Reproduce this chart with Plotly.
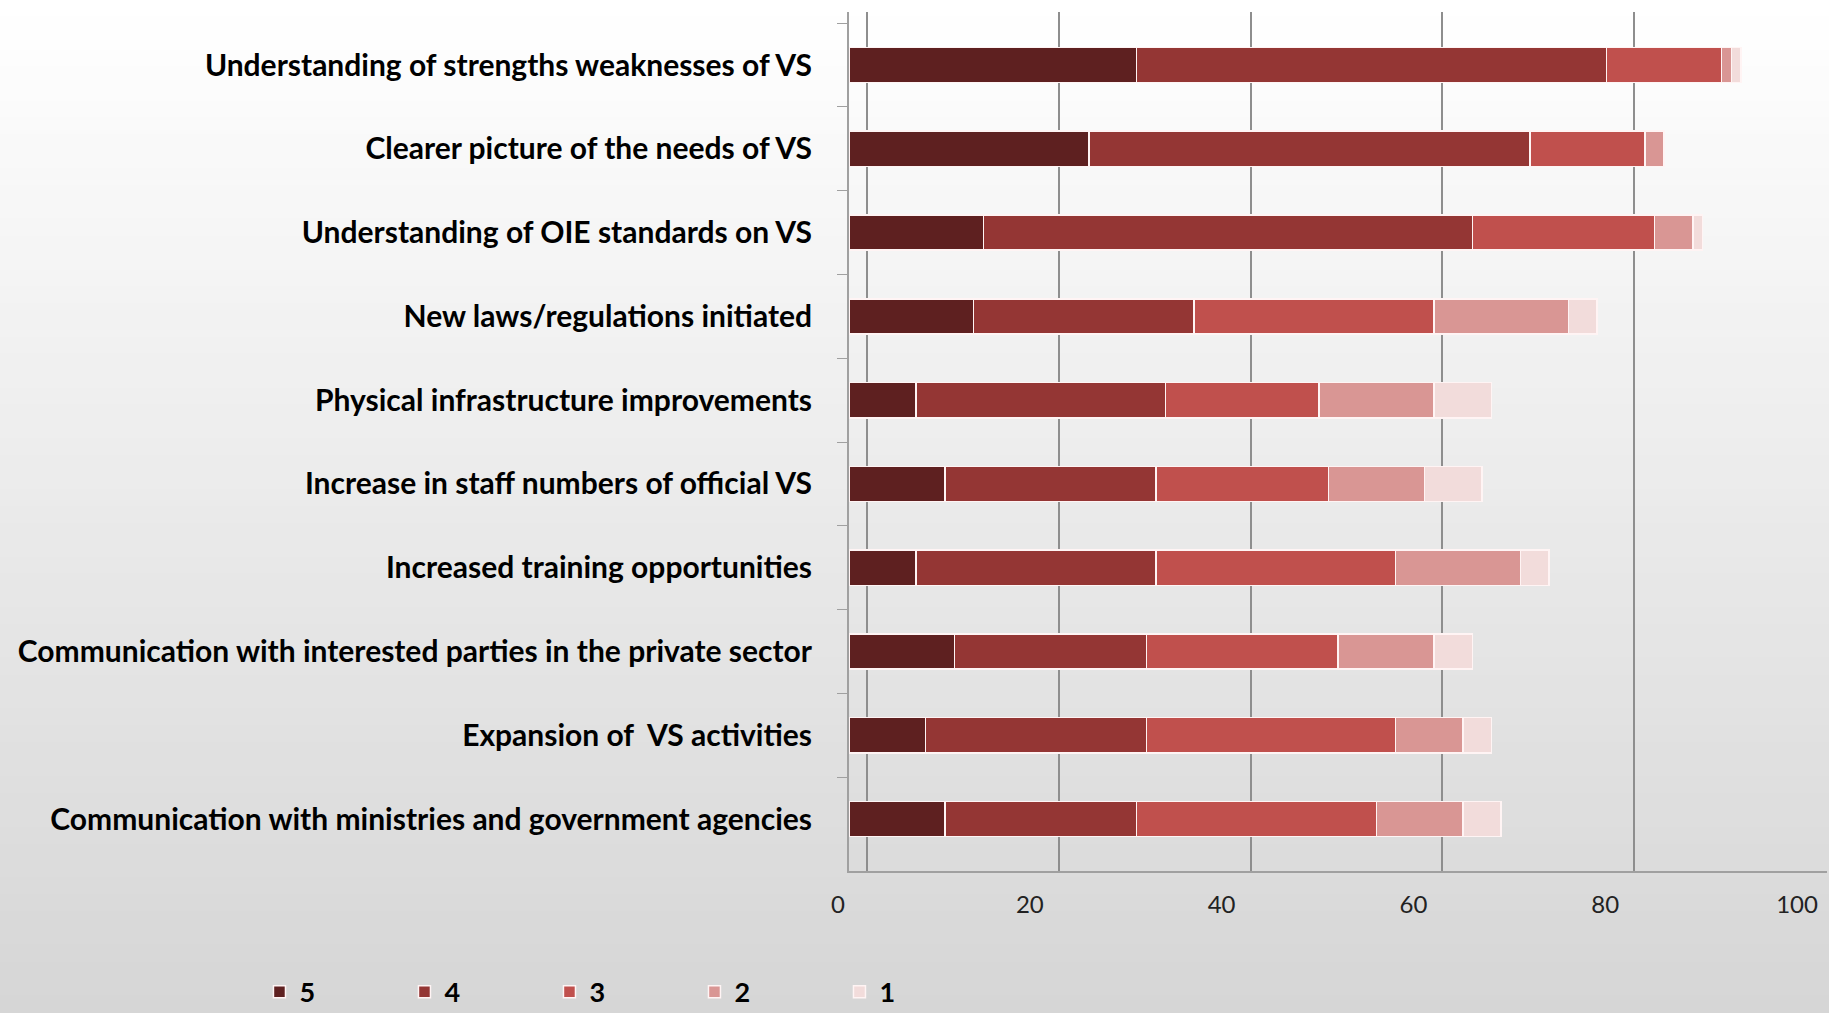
import plotly.graph_objects as go

categories = [
    "Understanding of strengths weaknesses of VS",
    "Clearer picture of the needs of VS",
    "Understanding of OIE standards on VS",
    "New laws/regulations initiated",
    "Physical infrastructure improvements",
    "Increase in staff numbers of official VS",
    "Increased training opportunities",
    "Communication with interested parties in the private sector",
    "Expansion of  VS activities",
    "Communication with ministries and government agencies",
]
series_names = ["5", "4", "3", "2", "1"]
score5 = [30, 25, 14, 13, 7, 10, 7, 11, 8, 10]
score4 = [49, 46, 51, 23, 26, 22, 25, 20, 23, 20]
score3 = [12, 12, 19, 25, 16, 18, 25, 20, 26, 25]
score2 = [1, 2, 4, 14, 12, 10, 13, 10, 7, 9]
score1 = [1, 0, 1, 3, 6, 6, 3, 4, 3, 4]
x_ticks = [0, 20, 40, 60, 80, 100]

series_values = [score5, score4, score3, score2, score1]
colors = ["#5e2020", "#943634", "#c0504d", "#d99694", "#f2dcdb"]

W, H = 1829, 1013
ML, MR, MT, MB = 849, 2, 12, 142
plot_w = W - ML - MR
plot_h = H - MT - MB
px_per_unit = 9.59
x_max = plot_w / px_per_unit
back_offset = 18 / px_per_unit   # back-wall gridlines sit a little to the right

fig = go.Figure()
for name, vals, col in zip(series_names, series_values, colors):
    fig.add_trace(go.Bar(
        y=categories, x=vals, name=name, orientation="h",
        marker=dict(color=col, line=dict(color="#fff4f4", width=1.5)),
    ))
# empty helper trace so the back-wall grid axis is drawn
fig.add_trace(go.Scatter(x=[], y=[], xaxis="x2", yaxis="y", showlegend=False,
                         hoverinfo="skip"))

# background vertical gradient (white -> light gray)
shapes = []
n = 60
top = 1 + MT / plot_h
bot = -MB / plot_h
for i in range(n):
    t = i / (n - 1)
    c = int(round(255 - t * (255 - 214)))
    y0 = top - (top - bot) * i / n
    y1 = top - (top - bot) * (i + 1) / n
    if i == n - 1:
        y1 = bot - 0.05
    shapes.append(dict(type="rect", xref="paper", yref="paper",
                       x0=-1.0, x1=1.1, y0=y1, y1=y0 + 0.001,
                       fillcolor=f"rgb({c},{c},{c})", line=dict(width=0),
                       layer="below"))

font_fam = "Lato, 'Open Sans', sans-serif"
fig.update_layout(
    width=W, height=H,
    margin=dict(l=ML, r=MR, t=MT, b=MB, pad=0, autoexpand=False),
    barmode="stack", bargap=0.58,
    paper_bgcolor="#ffffff", plot_bgcolor="rgba(0,0,0,0)",
    shapes=shapes,
    font=dict(family=font_fam, color="#000000"),
    legend=dict(orientation="h", x=-0.6028, y=-0.141, xanchor="left", yanchor="middle",
                traceorder="normal", entrywidth=100, entrywidthmode="pixels",
                font=dict(size=27, family=font_fam, weight="bold", color="#000000"),
                bgcolor="rgba(0,0,0,0)", itemclick=False),
    showlegend=True,
    xaxis2=dict(overlaying="x", range=[-back_offset, x_max - back_offset],
                tickvals=x_ticks, showticklabels=False, ticks="",
                showgrid=True, gridcolor="#8e8e8e", gridwidth=1.5,
                showline=False, zeroline=False, automargin=False),
)
fig.layout.xaxis.update(
    range=[0, x_max], tickvals=x_ticks, ticktext=[str(v) for v in x_ticks],
    showgrid=False,
    showline=True, linecolor="#a0a0a0", linewidth=2,
    ticks="", ticklabelstandoff=11, ticklabelshift=-11,
    tickfont=dict(size=24, color="#222222", family=font_fam), zeroline=False,
    automargin=False,
)
fig.update_yaxes(
    categoryorder="array", categoryarray=categories, range=[9.62, -0.633],
    showline=True, linecolor="#a0a0a0", linewidth=2,
    ticks="outside", tickson="boundaries", ticklen=10, tickcolor="#a0a0a0",
    ticklabelstandoff=29,
    tickfont=dict(size=30, color="#000000", family=font_fam, weight="bold"),
    showgrid=False, automargin=False,
)

fig.write_html(
    "out.html",
    config={"displayModeBar": False},
    post_script="document.body.style.margin='0';document.body.style.overflow='hidden';",
)
